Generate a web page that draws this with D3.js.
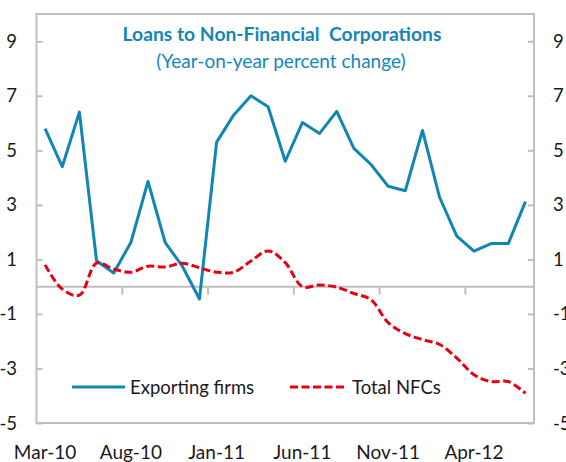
<!DOCTYPE html>
<html>
<head>
<meta charset="utf-8">
<script src="https://cdn.jsdelivr.net/npm/d3@7"></script>
<style>
  body { margin: 0; background: #fff; }
  text { font-family: Lato, "Open Sans", sans-serif; fill: #1a1a1a; }
</style>
</head>
<body>
<svg id="chart" width="566" height="462"></svg>
<script>
// months Mar-10 .. Jul-12
var months = ["Mar-10","Apr-10","May-10","Jun-10","Jul-10","Aug-10","Sep-10","Oct-10","Nov-10","Dec-10",
    "Jan-11","Feb-11","Mar-11","Apr-11","May-11","Jun-11","Jul-11","Aug-11","Sep-11","Oct-11",
    "Nov-11","Dec-11","Jan-12","Feb-12","Mar-12","Apr-12","May-12","Jun-12","Jul-12"];

var exporting = [5.8, 4.4, 6.4, 0.95, 0.5, 1.62, 3.86, 1.62, 0.75, -0.45,
    5.3, 6.3, 7.0, 6.6, 4.6, 6.02, 5.62, 6.43, 5.07, 4.48,
    3.68, 3.52, 5.73, 3.27, 1.85, 1.3, 1.58, 1.58, 3.12];

var totalNFC = [0.8, -0.09, -0.31, 0.86, 0.65, 0.53, 0.75, 0.72, 0.86, 0.69,
    0.53, 0.53, 0.94, 1.31, 0.88, 0.0, 0.06, -0.02, -0.25, -0.48,
    -1.32, -1.72, -1.94, -2.12, -2.62, -3.23, -3.48, -3.48, -3.91];

var yTicks = [-5, -3, -1, 1, 3, 5, 7, 9];
var labelEvery = 5;

var plotL = 36.5, plotR = 534, plotT = 14, plotB = 423;
var blue = "#0f86b3", red = "#e60012", grey = "#bfbfbf";

var svg = d3.select("#chart");

var x = d3.scaleBand().domain(months).range([plotL, plotR]);
var y = d3.scaleLinear().domain([-5, 10]).range([plotB, plotT]);

function cx(d, i) {
    return x(months[i]) + x.bandwidth() / 2;
}

// frame
svg.append("rect")
    .attr("x", plotL).attr("y", plotT)
    .attr("width", plotR - plotL).attr("height", plotB - plotT)
    .attr("fill", "none").attr("stroke", grey).attr("stroke-width", 2);

// left and right value axes, ticks pointing inward
var leftAxis = d3.axisRight(y).tickValues(yTicks).tickSize(6).tickFormat("");
var rightAxis = d3.axisLeft(y).tickValues(yTicks).tickSize(6).tickFormat("");
svg.append("g").attr("transform", "translate(" + plotL + ",0)").call(leftAxis);
svg.append("g").attr("transform", "translate(" + plotR + ",0)").call(rightAxis);
svg.selectAll(".domain").remove();
svg.selectAll(".tick line").attr("stroke", grey).attr("stroke-width", 2);

svg.append("g").selectAll("text")
    .data(yTicks)
    .enter()
    .append("text")
    .attr("x", 17)
    .attr("y", function (d) { return y(d) + 6.5; })
    .attr("text-anchor", "end")
    .style("font-size", "18.5px")
    .text(function (d) { return d; });

svg.append("g").selectAll("text")
    .data(yTicks)
    .enter()
    .append("text")
    .attr("x", 553)
    .attr("y", function (d) { return y(d) + 6.5; })
    .style("font-size", "18.5px")
    .text(function (d) { return d; });

// zero line with category ticks
svg.append("line")
    .attr("x1", plotL).attr("x2", plotR)
    .attr("y1", y(0)).attr("y2", y(0))
    .attr("stroke", grey).attr("stroke-width", 2);

var tickIdx = d3.range(labelEvery, months.length, labelEvery);
svg.append("g").selectAll("line")
    .data(tickIdx)
    .enter()
    .append("line")
    .attr("x1", function (i) { return x(months[i]); })
    .attr("x2", function (i) { return x(months[i]); })
    .attr("y1", y(0))
    .attr("y2", y(0) + 8)
    .attr("stroke", grey).attr("stroke-width", 2);

// month labels
svg.append("g").selectAll("text")
    .data(months.filter(function (m, i) { return i % labelEvery == 0; }))
    .enter()
    .append("text")
    .attr("x", function (m) { return x(m) + x.bandwidth() / 2; })
    .attr("y", 459)
    .attr("text-anchor", "middle")
    .style("font-size", "19px")
    .text(function (m) { return m; });

// series
var blueLine = d3.line()
    .x(cx)
    .y(function (d) { return y(d); });

var redLine = d3.line()
    .x(cx)
    .y(function (d) { return y(d); })
    .curve(d3.curveCatmullRom);

svg.append("path")
    .datum(exporting)
    .attr("d", blueLine)
    .attr("fill", "none")
    .attr("stroke", blue)
    .attr("stroke-width", 3)
    .attr("stroke-linejoin", "round");

svg.append("path")
    .datum(totalNFC)
    .attr("d", redLine)
    .attr("fill", "none")
    .attr("stroke", red)
    .attr("stroke-width", 3)
    .attr("stroke-dasharray", "8,3.5");

// title
svg.append("text")
    .attr("x", 282).attr("y", 40.5)
    .attr("text-anchor", "middle")
    .style("font-size", "19.3px")
    .style("font-weight", "bold")
    .style("fill", "#1587b6")
    .style("white-space", "pre")
    .text("Loans to Non-Financial  Corporations");

svg.append("text")
    .attr("x", 281).attr("y", 67.5)
    .attr("text-anchor", "middle")
    .style("font-size", "19px")
    .style("fill", "#1587b6")
    .text("(Year-on-year percent change)");

// legend
var legend = [
    {name: "Exporting firms", color: blue, dash: null, x1: 72, x2: 125},
    {name: "Total NFCs", color: red, dash: "8,3.5", x1: 290, x2: 347}
];
var lg = svg.append("g").selectAll("g")
    .data(legend)
    .enter()
    .append("g");
lg.append("line")
    .attr("x1", function (d) { return d.x1; })
    .attr("x2", function (d) { return d.x2; })
    .attr("y1", 387).attr("y2", 387)
    .attr("stroke", function (d) { return d.color; })
    .attr("stroke-width", 3)
    .attr("stroke-dasharray", function (d) { return d.dash; });
lg.append("text")
    .attr("x", function (d) { return d.x2 + 5; })
    .attr("y", 393.5)
    .style("font-size", "18.5px")
    .text(function (d) { return d.name; });
</script>
</body>
</html>
